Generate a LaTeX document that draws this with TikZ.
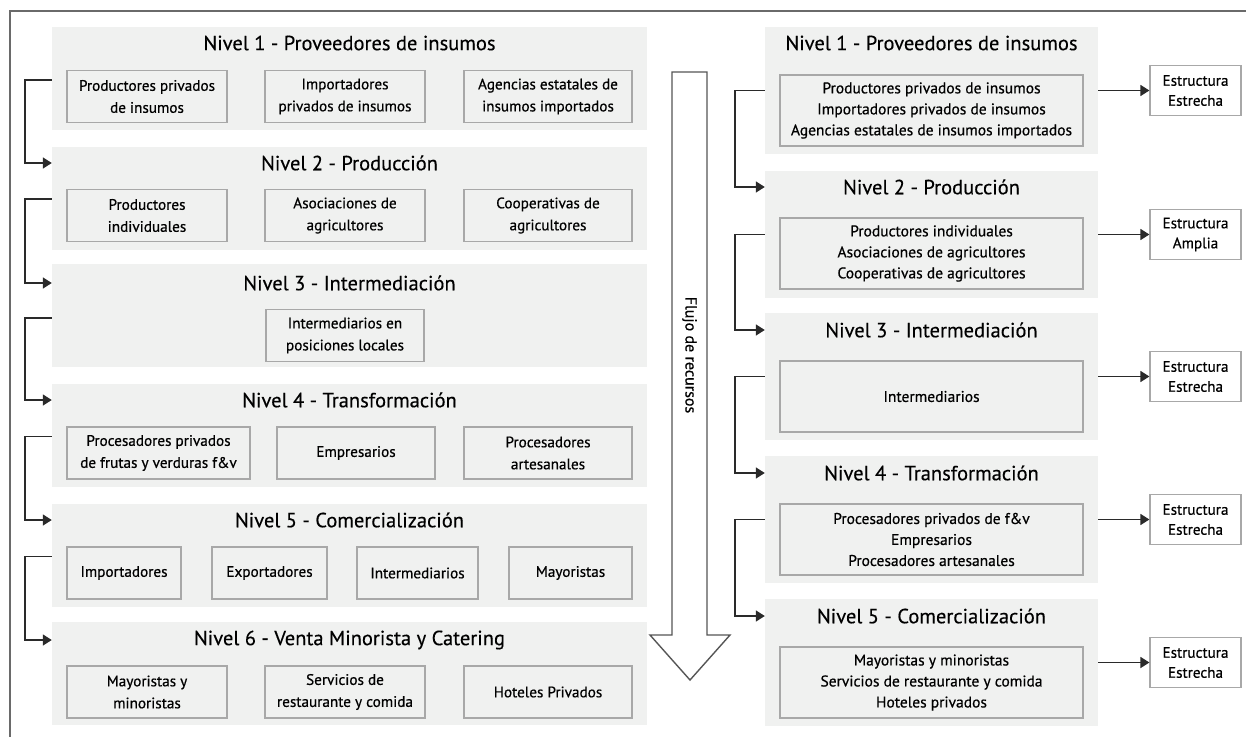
\documentclass[tikz,border=0pt]{standalone}
\usepackage{fontspec}
\setmainfont{PT Sans}
\newfontfamily\boxfont[FakeBold=0.6]{PT Sans}
\newfontfamily\titlefont[FakeBold=0.3]{PT Sans}
\usetikzlibrary{arrows.meta,calc}
\definecolor{panelgray}{HTML}{F0F1F0}
\definecolor{boxgray}{HTML}{A8A8A8}
\definecolor{linecol}{HTML}{2A2A2A}
\definecolor{framecol}{HTML}{6A6A6A}
\tikzset{
  panel/.style={fill=panelgray, draw=none, inner sep=0pt, rectangle},
  lpanel/.style={panel, minimum width=595pt, minimum height=103pt},
  rpanel/.style={panel, minimum width=333pt, minimum height=127pt},
  title/.style={font=\titlefont\fontsize{20.5}{24}\selectfont, inner sep=0pt},
  sub/.style={draw=boxgray, line width=1.2pt, rectangle, inner sep=0pt, minimum height=52pt, align=center, font=\boxfont\fontsize{15.2}{22}\selectfont},
  rsub/.style={draw=boxgray, line width=1.2pt, rectangle, inner sep=0pt, minimum width=303pt, minimum height=71pt, align=center, font=\boxfont\fontsize{15.5}{21}\selectfont},
  estr/.style={draw=boxgray, fill=white, line width=1.2pt, rectangle, inner sep=0pt, minimum width=91pt, minimum height=50pt, align=center, font=\boxfont\fontsize{15.2}{20}\selectfont},
  conn/.style={draw=linecol, line width=1.5pt, -{Triangle[length=9pt,width=11pt]}},
}
\begin{document}
\begin{tikzpicture}[x=1pt,y=-1pt]
\useasboundingbox (0,0) rectangle (1246,736);
% frame
\draw[framecol, line width=2pt] (10,737) -- (10,11) -- (1247,11);

% ---------- left panels ----------
\node[lpanel] (L1) at (349.5,78.5) {};
\node[lpanel] (L2) at (349.5,198.5) {};
\node[lpanel] (L3) at (349.5,315.5) {};
\node[lpanel] (L4) at (349.5,435.5) {};
\node[lpanel] (L5) at (349.5,555.5) {};
\node[lpanel] (L6) at (349.5,673.5) {};

\node[title] (LT1) at (349.5,43) {Nivel 1 - Proveedores de insumos};
\node[title] (LT2) at (349.5,163) {Nivel 2 - Producción};
\node[title] (LT3) at (349.5,283) {Nivel 3 - Intermediación};
\node[title] (LT4) at (349.5,400) {Nivel 4 - Transformación};
\node[title] (LT5) at (349.5,520) {Nivel 5 - Comercialización};
\node[title] (LT6) at (349.5,640) {Nivel 6 - Venta Minorista y Catering};

\node[sub, minimum width=160pt] (L1a) at (147,96.5) {Productores privados\\de insumos};
\node[sub, minimum width=160pt] (L1b) at (345,96.5) {Importadores\\privados de insumos};
\node[sub, minimum width=168pt] (L1c) at (548,96.5) {Agencias estatales de\\insumos importados};

\node[sub, minimum width=160pt] (L2a) at (147,215.5) {Productores\\individuales};
\node[sub, minimum width=160pt] (L2b) at (345,215.5) {Asociaciones de\\agricultores};
\node[sub, minimum width=168pt] (L2c) at (548,215.5) {Cooperativas de\\agricultores};

\node[sub, minimum width=158pt] (L3a) at (345,335.5) {Intermediarios en\\posiciones locales};

\node[sub, minimum width=183pt] (L4a) at (158.5,453) {Procesadores privados\\de frutas y verduras f\&v};
\node[sub, minimum width=158pt] (L4b) at (356,453) {Empresarios};
\node[sub, minimum width=168pt] (L4c) at (548,453) {Procesadores\\artesanales};

\node[sub, minimum width=114pt] (L5a) at (124,573) {Importadores};
\node[sub, minimum width=115pt] (L5b) at (269.5,573) {Exportadores};
\node[sub, minimum width=121pt] (L5c) at (417.5,573) {Intermediarios};
\node[sub, minimum width=123pt] (L5d) at (570.5,573) {Mayoristas};

\node[sub, minimum width=160pt] (L6a) at (147,692) {Mayoristas y\\minoristas};
\node[sub, minimum width=160pt] (L6b) at (345,692) {Servicios de\\restaurante y comida};
\node[sub, minimum width=168pt] (L6c) at (548,692) {Hoteles Privados};

% left connectors
\draw[conn] ($(L1a.north -| L1.west)+(0,10)$) -- ++(-27,0) |- (LT2 -| L2.west);
\draw[conn] ($(L2a.north -| L2.west)+(0,10)$) -- ++(-27,0) |- (LT3 -| L3.west);
\draw[conn] ($(L3a.north -| L3.west)+(0,9)$) -- ++(-27,0) |- (LT4 -| L4.west);
\draw[conn] ($(L4a.north -| L4.west)+(0,10)$) -- ++(-27,0) |- (LT5 -| L5.west);
\draw[conn] ($(L5a.north -| L5.west)+(0,10)$) -- ++(-27,0) |- (LT6 -| L6.west);

% ---------- big arrow ----------
\draw[framecol!80!black, line width=1.4pt, fill=white, line join=miter]
  (672,72) -- (707,72) -- (707,635) -- (730,635) -- (690,680) -- (650,635) -- (672,635) -- cycle;
\node[rotate=-90, font=\boxfont\fontsize{16}{18}\selectfont, inner sep=0pt] (flujo) at (689.5,355) {Flujo de recursos};

% ---------- right panels ----------
\node[rpanel] (R1) at (931.5,90.5) {};
\node[rpanel] (R2) at (931.5,234.5) {};
\node[rpanel] (R3) at (931.5,376.5) {};
\node[rpanel] (R4) at (931.5,519.5) {};
\node[rpanel] (R5) at (931.5,662.5) {};

\node[title] (RT1) at (931.5,43) {Nivel 1 - Proveedores de insumos};
\node[title] (RT2) at (931.5,187) {Nivel 2 - Producción};
\node[title] (RT3) at (931.5,330) {Nivel 3 - Intermediación};
\node[title] (RT4) at (931.5,473) {Nivel 4 - Transformación};
\node[title] (RT5) at (931.5,616) {Nivel 5 - Comercialización};

\node[rsub] (R1a) at (931.5,110.5) {Productores privados de insumos\\Importadores privados de insumos\\Agencias estatales de insumos importados};
\node[rsub] (R2a) at (931.5,253.5) {Productores individuales\\Asociaciones de agricultores\\Cooperativas de agricultores};
\node[rsub] (R3a) at (931.5,396.5) {Intermediarios};
\node[rsub] (R4a) at (931.5,539.5) {Procesadores privados de f\&v\\Empresarios\\Procesadores artesanales};
\node[rsub] (R5a) at (931.5,682.5) {Mayoristas y minoristas\\Servicios de restaurante y comida\\Hoteles privados};

\node[estr] (E1) at (1195.5,90.5) {Estructura\\Estrecha};
\node[estr] (E2) at (1195.5,234.5) {Estructura\\Amplia};
\node[estr] (E3) at (1195.5,376.5) {Estructura\\Estrecha};
\node[estr] (E4) at (1195.5,519.5) {Estructura\\Estrecha};
\node[estr] (E5) at (1195.5,662.5) {Estructura\\Estrecha};

\draw[conn] (R1.east) -- (E1.west);
\draw[conn] (R2.east) -- (E2.west);
\draw[conn] (R3.east) -- (E3.west);
\draw[conn] (R4.east) -- (E4.west);
\draw[conn] (R5.east) -- (E5.west);

% right connectors
\draw[conn] (R1.west) -- ++(-30,0) |- (RT2 -| R2.west);
\draw[conn] (R2.west) -- ++(-30,0) |- (RT3 -| R3.west);
\draw[conn] (R3.west) -- ++(-30,0) |- (RT4 -| R4.west);
\draw[conn] (R4.west) -- ++(-30,0) |- (RT5 -| R5.west);
\end{tikzpicture}
\end{document}
